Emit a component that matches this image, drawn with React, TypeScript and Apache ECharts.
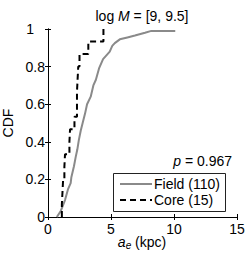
import React, { useEffect, useRef } from "react";
import * as echarts from "echarts";

const xTicks = [0, 5, 10, 15];
const yTicks = [0, 0.2, 0.4, 0.6, 0.8, 1];
// Core sample (15 galaxies): sorted a_e values (kpc)
const coreValues = [1.1, 1.15, 1.2, 1.3, 1.35, 1.7, 1.75, 2.1, 2.3, 2.3, 2.35, 2.4, 2.5, 3.2, 4.4];
// Field sample (110 galaxies): CDF curve vertices
const fieldX = [0.7, 1.0, 1.35, 1.6, 1.8, 1.85, 2.06, 2.2, 2.33, 2.45, 2.6, 2.75, 2.94, 3.1, 3.39, 3.6, 3.8, 4.05, 4.37, 4.9, 5.1, 5.3, 5.7, 6.3, 6.9, 7.7, 8.2, 10.1];
const fieldCdf = [0, 0.03, 0.09, 0.15, 0.18, 0.21, 0.27, 0.32, 0.36, 0.41, 0.46, 0.5, 0.55, 0.6, 0.64, 0.7, 0.73, 0.79, 0.84, 0.88, 0.91, 0.925, 0.945, 0.955, 0.965, 0.98, 0.99, 0.99];
const fieldName = "Field (110)";
const coreName = "Core (15)";
const pValue = "0.967";

const FONT = "Liberation Sans, Arial, Helvetica, sans-serif";

export default function App() {
  const ref = useRef<HTMLDivElement>(null);
  useEffect(() => {
    if (!ref.current) return;
    const chart = echarts.init(ref.current, null, { renderer: "svg" });
    const n = coreValues.length;
    const coreData: number[][] = [[coreValues[0], 0]];
    coreValues.forEach((v, i) => coreData.push([v, (i + 1) / n]));
    const fieldData = fieldX.map((x, i) => [x, fieldCdf[i]]);

    const axisCommon = {
      axisLine: { show: true, lineStyle: { color: "#000", width: 1 } },
      axisTick: { show: true, inside: true, length: 3, lineStyle: { color: "#000" } },
      splitLine: { show: false },
    };

    chart.setOption({
      animation: false,
      textStyle: { fontFamily: FONT },
      grid: { left: 48, right: 12, top: 29, bottom: 38, containLabel: false, outerBoundsMode: "none" },
      xAxis: [
        {
          type: "value",
          min: xTicks[0],
          max: xTicks[xTicks.length - 1],
          interval: 5,
          ...axisCommon,
          axisLabel: { fontSize: 14, color: "#000", margin: 5, fontFamily: FONT },
        },
        {
          type: "value",
          position: "top",
          min: xTicks[0],
          max: xTicks[xTicks.length - 1],
          interval: 5,
          ...axisCommon,
          axisLabel: { show: false },
        },
      ],
      yAxis: [
        {
          type: "value",
          min: yTicks[0],
          max: yTicks[yTicks.length - 1],
          interval: 0.2,
          ...axisCommon,
          axisLabel: {
            fontSize: 14,
            color: "#000",
            margin: 3,
            fontFamily: FONT,
            formatter: (v: number) => (v === 1 ? "{one|1}" : String(Math.round(v * 10) / 10)),
            rich: { one: { fontSize: 14, color: "#000", fontFamily: FONT, padding: [0, 11, 0, 0] } },
          },
          name: "CDF",
          nameLocation: "middle",
          nameGap: 30,
          nameTextStyle: { fontSize: 14, color: "#000", fontFamily: FONT },
        },
        {
          type: "value",
          position: "right",
          min: yTicks[0],
          max: yTicks[yTicks.length - 1],
          interval: 0.2,
          ...axisCommon,
          axisLabel: { show: false },
        },
      ],
      graphic: [
        {
          type: "text",
          x: 142,
          y: 16,
          style: {
            text: "log {i|M} = [9, 9.5]",
            fontSize: 14,
            fill: "#000",
            fontFamily: FONT,
            align: "center",
            verticalAlign: "middle",
            rich: { i: { fontStyle: "italic", fontSize: 14, fill: "#000", fontFamily: FONT } },
          },
        },
        {
          type: "text",
          x: 142,
          y: 242,
          style: {
            text: "{i|a}{sub|e} (kpc)",
            fontSize: 14,
            fill: "#000",
            fontFamily: FONT,
            align: "center",
            verticalAlign: "middle",
            rich: {
              i: { fontStyle: "italic", fontSize: 14, fill: "#000", fontFamily: FONT },
              sub: { fontStyle: "italic", fontSize: 10, fill: "#000", fontFamily: FONT, padding: [7, 0, 0, 0] },
            },
          },
        },
        {
          type: "text",
          x: 232,
          y: 161,
          style: {
            text: "{i|p} = " + pValue,
            fontSize: 14,
            fill: "#000",
            fontFamily: FONT,
            align: "right",
            verticalAlign: "middle",
            rich: { i: { fontStyle: "italic", fontSize: 14, fill: "#000", fontFamily: FONT } },
          },
        },
        {
          type: "rect",
          shape: { x: 113.5, y: 173.5, width: 112, height: 38 },
          style: { fill: "#fff", stroke: "#222", lineWidth: 1 },
          z: 10,
        },
        {
          type: "line",
          shape: { x1: 120, y1: 184, x2: 152, y2: 184 },
          style: { stroke: "#8a8a8a", lineWidth: 2 },
          z: 11,
        },
        {
          type: "line",
          shape: { x1: 120, y1: 200, x2: 152, y2: 200 },
          style: { stroke: "#000", lineWidth: 2, lineDash: [6, 4] },
          z: 11,
        },
        {
          type: "text",
          x: 154,
          y: 184,
          style: { text: fieldName, fontSize: 14, fill: "#000", fontFamily: FONT, verticalAlign: "middle" },
          z: 11,
        },
        {
          type: "text",
          x: 154,
          y: 200,
          style: { text: coreName, fontSize: 14, fill: "#000", fontFamily: FONT, verticalAlign: "middle" },
          z: 11,
        },
      ],
      series: [
        {
          name: fieldName,
          type: "line",
          data: fieldData,
          symbol: "none",
          lineStyle: { color: "#8a8a8a", width: 2 },
          itemStyle: { color: "#8a8a8a" },
          z: 2,
        },
        {
          name: coreName,
          type: "line",
          data: coreData,
          step: "end",
          symbol: "none",
          lineStyle: { color: "#000", width: 2, type: [6, 4] },
          itemStyle: { color: "#000" },
          z: 3,
        },
      ],
    });
    return () => chart.dispose();
  }, []);
  return <div ref={ref} style={{ width: 249, height: 255, position: "absolute", left: 0, top: 0 }} />;
}
